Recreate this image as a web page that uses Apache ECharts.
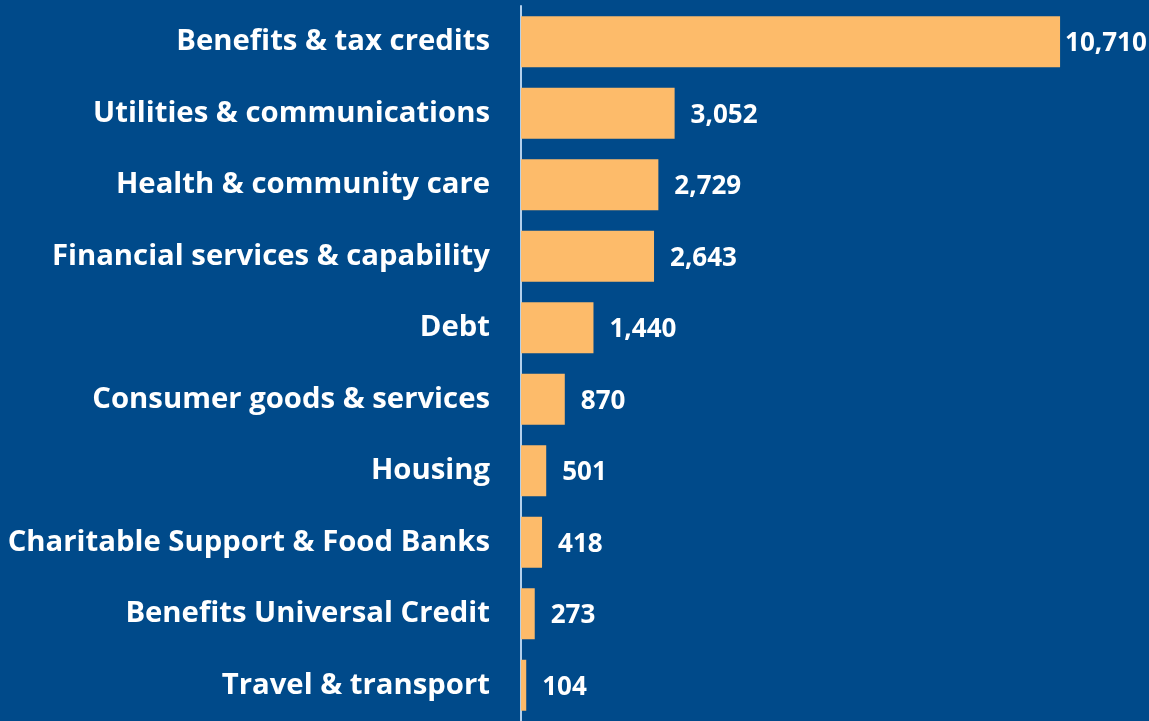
<!DOCTYPE html>
<html>
<head>
<meta charset="utf-8">
<script src="https://cdn.jsdelivr.net/npm/echarts@6/dist/echarts.min.js"></script>
<style>
  html, body { margin: 0; padding: 0; background: #004a8a; }
  #chart { width: 1149px; height: 721px; }
</style>
</head>
<body>
<div id="chart"></div>
<script>
// Advice enquiries by topic, largest first
const categories = [
  'Benefits & tax credits',
  'Utilities & communications',
  'Health & community care',
  'Financial services & capability',
  'Debt',
  'Consumer goods & services',
  'Housing',
  'Charitable Support & Food Banks',
  'Benefits Universal Credit',
  'Travel & transport'
];
const counts = [10710, 3052, 2729, 2643, 1440, 870, 501, 418, 273, 104];

const fmt = v => v.toLocaleString('en-GB');

const chart = echarts.init(document.getElementById('chart'));
chart.setOption({
  backgroundColor: '#004a8a',
  animation: false,
  grid: { left: 521, top: 6, width: 604, height: 718 },
  xAxis: {
    type: 'value', min: 0, max: 12000,
    show: false
  },
  yAxis: {
    type: 'category',
    data: categories,
    inverse: true,
    axisLine: { show: true, lineStyle: { color: '#b3d0ec', width: 2 } },
    axisTick: { show: false },
    axisLabel: {
      color: '#ffffff',
      fontFamily: 'Open Sans',
      fontWeight: 'bold',
      fontSize: 29.3,
      margin: 31,
      padding: [6, 0, 0, 0]
    }
  },
  series: [{
    type: 'bar',
    data: counts.map((v, i) => i === 0
      ? { value: v, label: { distance: 5 } }
      : v),
    barWidth: 51,
    itemStyle: { color: '#fdbb6a' },
    label: {
      show: true,
      position: 'right',
      distance: 16,
      offset: [0, 2],
      color: '#ffffff',
      fontFamily: 'Open Sans',
      fontWeight: 'bold',
      fontSize: 26,
      formatter: p => fmt(p.value)
    }
  }]
});
</script>
</body>
</html>
